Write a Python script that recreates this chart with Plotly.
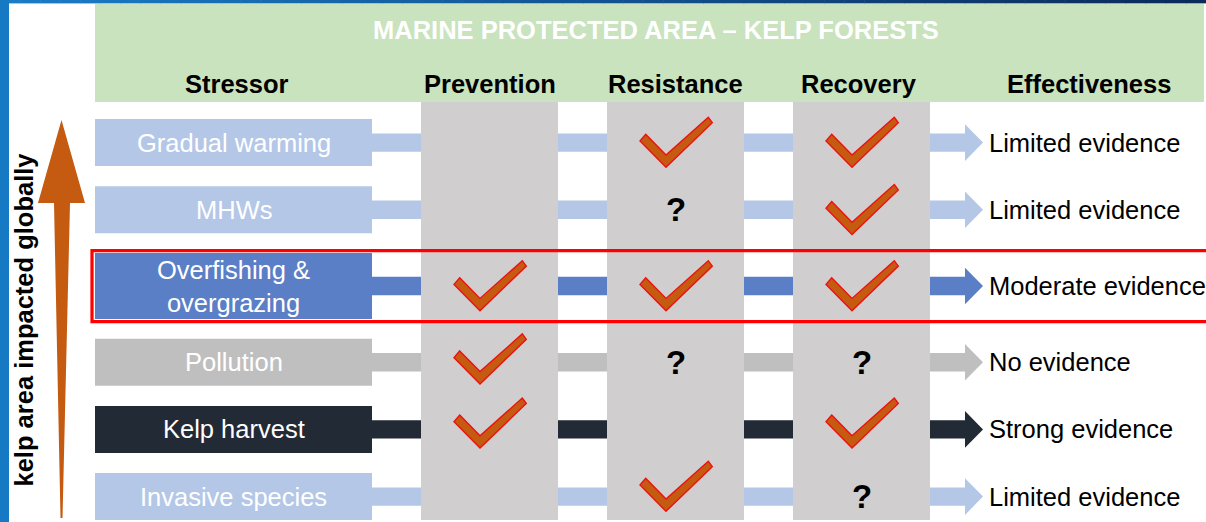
import plotly.graph_objects as go

W, H = 1206, 522

# ---------------- data ----------------
title = "MARINE PROTECTED AREA – KELP FORESTS"
headers = ["Stressor", "Prevention", "Resistance", "Recovery", "Effectiveness"]
stressors = ["Gradual warming", "MHWs", "Overfishing &<br>overgrazing",
             "Pollution", "Kelp harvest", "Invasive species"]
prevention = ["", "", "check", "check", "check", ""]
resistance = ["check", "?", "check", "?", "", "check"]
recovery = ["check", "check", "check", "?", "check", "?"]
effectiveness = ["Limited evidence", "Limited evidence", "Moderate evidence",
                 "No evidence", "Strong evidence", "Limited evidence"]
highlighted = "Overfishing &<br>overgrazing"
side_label = "kelp area impacted globally"

# ---------------- style ----------------
FONT = "Arial, 'Liberation Sans', sans-serif"
FS = 25.5
evidence_colour = {
    "Limited evidence": "#b4c7e7",
    "Moderate evidence": "#5a7fc6",
    "No evidence": "#bfbfbf",
    "Strong evidence": "#222a35",
}
HEADER_GREEN = "#c8e3bd"
COLUMN_GREY = "#d0cece"
CHECK_FILL = "#c55a11"
CHECK_EDGE = "#f01010"
HILITE_RED = "#ff0000"
ARROW_ORANGE = "#c55a11"

# layout geometry (pixel space)
ROW0, ROW_STEP, HILITE_GAP = 142.6, 67.2, 9.0
BOX_X0, BOX_X1 = 95, 372
BOX_H, BOX_H_TALL = 47, 66
COL_X0, COL_W, COL_STEP = 421, 137, 186
COL_TOP, COL_BOTTOM = 102, 520
SHAFT_END, ARROW_TIP = 965, 983
BAR_HALF, HEAD_HALF = 9.2, 18.3
EVID_X = 987
HEADER_TOP, HEADER_BOTTOM, HEADER_RIGHT = 4, 102, 1204
HEADER_X = [237, 489.5, 675.5, 859, 1089]
# vertical nudge of the check marks in each row (lower rows sit a little high)
CHECK_NUDGE = [0, 0, 0, -3, -6, -10]

# check-mark glyph outline relative to its centre
CHECK = [(-29.8, -8.3), (-9.5, 12.4), (32.8, -25.3),
         (36.8, -19.9), (-9.5, 24.7), (-35.5, -1.6)]

# row centres: extra breathing room around the highlighted row
row_y = []
y = ROW0
for i, s in enumerate(stressors):
    if i > 0:
        y += ROW_STEP
        if s == highlighted or stressors[i - 1] == highlighted:
            y += HILITE_GAP
    row_y.append(y)

col_centres = [COL_X0 + j * COL_STEP + COL_W / 2 for j in range(3)]

shapes = []
annotations = []


def rect(x0, y0, x1, y1, colour, layer="below"):
    shapes.append(dict(type="rect", xref="x", yref="y", x0=x0, y0=y0, x1=x1, y1=y1,
                       fillcolor=colour, line=dict(width=0), layer=layer))


def hex_mix(c1, c2, t):
    a = [int(c1[k:k + 2], 16) for k in (1, 3, 5)]
    b = [int(c2[k:k + 2], 16) for k in (1, 3, 5)]
    return "#" + "".join(f"{round(a[k] + (b[k] - a[k]) * t):02x}" for k in range(3))


# frame: gradient band across the top, solid band on the left
N = 60
for k in range(N):
    rect(W * k / N, 0, W * (k + 1) / N + 0.5, 3.4,
         hex_mix("#1a7cc6", "#0a2a5a", k / (N - 1)))
rect(0, 0, 9, H, "#1679c4")

# header band
rect(BOX_X0, HEADER_TOP, HEADER_RIGHT, HEADER_BOTTOM, HEADER_GREEN)

# connector bars ending in an arrow head
for yc, ev in zip(row_y, effectiveness):
    path = (f"M {BOX_X1} {yc - BAR_HALF} L {SHAFT_END} {yc - BAR_HALF} "
            f"L {SHAFT_END} {yc - HEAD_HALF} L {ARROW_TIP} {yc} "
            f"L {SHAFT_END} {yc + HEAD_HALF} L {SHAFT_END} {yc + BAR_HALF} "
            f"L {BOX_X1} {yc + BAR_HALF} Z")
    shapes.append(dict(type="path", path=path, xref="x", yref="y",
                       fillcolor=evidence_colour[ev], line=dict(width=0), layer="below"))

# stressor boxes
for s, yc, ev in zip(stressors, row_y, effectiveness):
    h = BOX_H_TALL if "<br>" in s else BOX_H
    rect(BOX_X0, yc - h / 2, BOX_X1, yc + h / 2, evidence_colour[ev])
    annotations.append(dict(x=(BOX_X0 + BOX_X1) / 2, y=yc, text=s,
                            font=dict(family=FONT, size=FS, color="white")))

# response columns
for cx in col_centres:
    rect(cx - COL_W / 2, COL_TOP, cx + COL_W / 2, COL_BOTTOM, COLUMN_GREY)

# column contents: check marks and question marks
for cx, column in zip(col_centres, [prevention, resistance, recovery]):
    for yc, mark, nudge in zip(row_y, column, CHECK_NUDGE):
        if mark == "check":
            pts = [(cx + dx, yc + nudge + dy) for dx, dy in CHECK]
            path = "M " + " L ".join(f"{px:.1f} {py:.1f}" for px, py in pts) + " Z"
            shapes.append(dict(type="path", path=path, xref="x", yref="y",
                               fillcolor=CHECK_FILL,
                               line=dict(color=CHECK_EDGE, width=1.4), layer="above"))
        elif mark == "?":
            annotations.append(dict(x=cx, y=yc, text="?",
                                    font=dict(family=FONT, size=33, color="black",
                                              weight="bold")))

# highlight frame around the featured stressor
hy = row_y[stressors.index(highlighted)]
shapes.append(dict(type="rect", xref="x", yref="y", x0=92, y0=hy - 35.4,
                   x1=W + 10, y1=hy + 35.6, fillcolor="rgba(0,0,0,0)",
                   line=dict(color=HILITE_RED, width=3.2), layer="above"))

# effectiveness labels
for yc, ev in zip(row_y, effectiveness):
    annotations.append(dict(x=EVID_X, y=yc, text=ev, xanchor="left",
                            font=dict(family=FONT, size=FS, color="black")))

# headers and title
annotations.append(dict(x=656, y=30, text=title,
                        font=dict(family=FONT, size=FS, color="white", weight="bold")))
for hx, htxt in zip(HEADER_X, headers):
    annotations.append(dict(x=hx, y=84, text=htxt,
                            font=dict(family=FONT, size=FS, color="black", weight="bold")))

# side arrow with its label
shapes.append(dict(type="path", xref="x", yref="y", layer="above",
                   path="M 61.5 120 L 85 203 L 70 203 L 62.5 518 L 60.5 518 "
                        "L 54 203 L 38 203 Z",
                   fillcolor=ARROW_ORANGE, line=dict(width=0)))
annotations.append(dict(x=23, y=319.5, text=side_label, textangle=-90,
                        font=dict(family=FONT, size=FS, color="black", weight="bold")))

for a in annotations:
    a.update(xref="x", yref="y", showarrow=False)
    a.setdefault("xanchor", "center")
    a.setdefault("yanchor", "middle")

fig = go.Figure()
fig.update_layout(
    width=W, height=H, autosize=False,
    margin=dict(l=0, r=0, t=0, b=0, pad=0),
    paper_bgcolor="white", plot_bgcolor="white",
    xaxis=dict(range=[0, W], visible=False, fixedrange=True),
    yaxis=dict(range=[H, 0], visible=False, fixedrange=True),
    shapes=shapes, annotations=annotations, showlegend=False,
)
fig.write_html("out.html", config={"displayModeBar": False})
